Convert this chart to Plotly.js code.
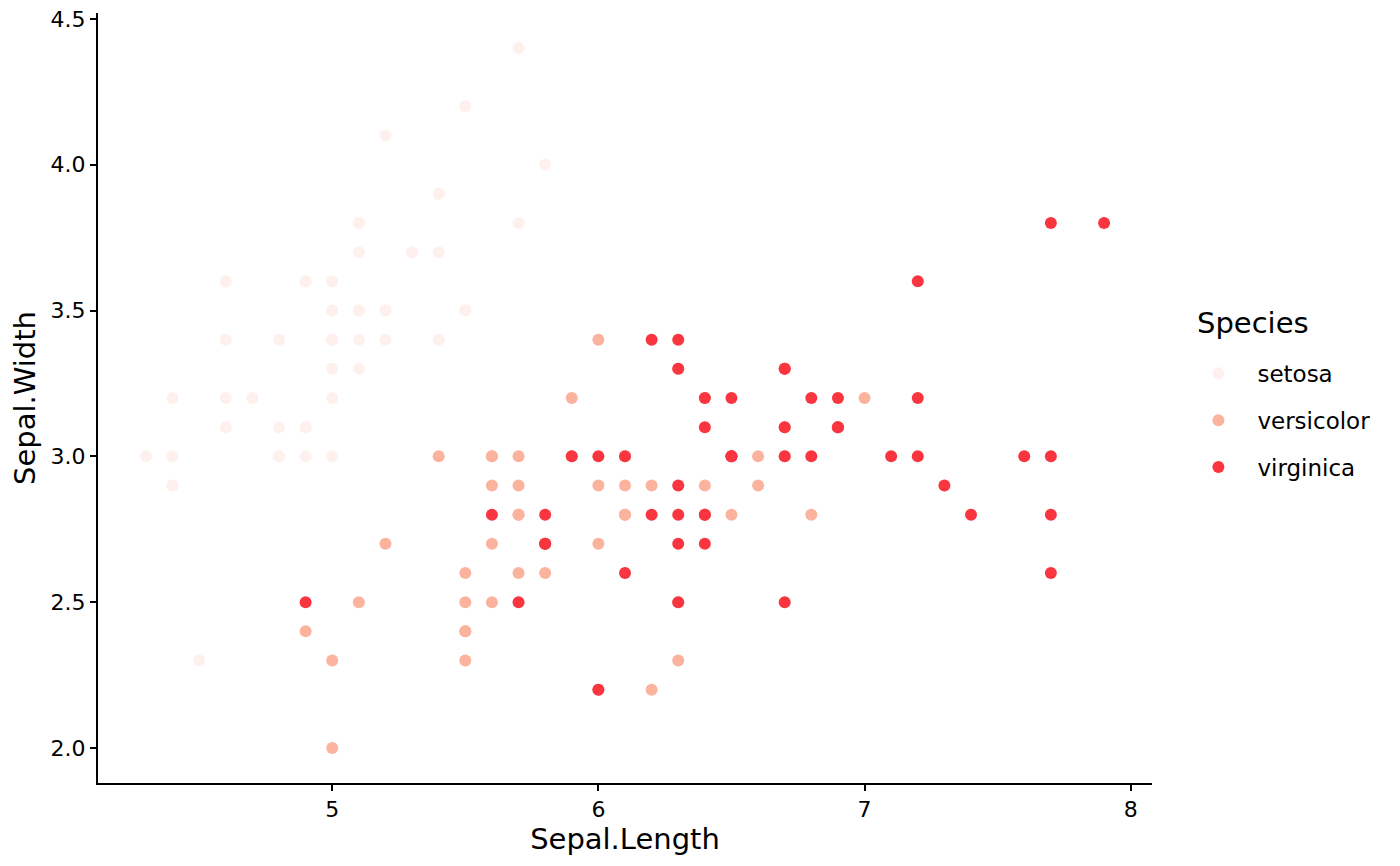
<!DOCTYPE html>
<html>
<head>
<meta charset="utf-8">
<script src="https://cdn.plot.ly/plotly-3.0.1.min.js"></script>
<style>
  body { margin: 0; background: #fff; }
  #plot { width: 1400px; height: 866px; }
</style>
</head>
<body>
<div id="plot"></div>
<script>
// iris: Sepal.Length / Sepal.Width by species
let setosa_x = [5.1,4.9,4.7,4.6,5.0,5.4,4.6,5.0,4.4,4.9,5.4,4.8,4.8,4.3,5.8,5.7,5.4,5.1,5.7,5.1,
  5.4,5.1,4.6,5.1,4.8,5.0,5.0,5.2,5.2,4.7,4.8,5.4,5.2,5.5,4.9,5.0,5.5,4.9,4.4,5.1,
  5.0,4.5,4.4,5.0,5.1,4.8,5.1,4.6,5.3,5.0]
let setosa_y = [3.5,3.0,3.2,3.1,3.6,3.9,3.4,3.4,2.9,3.1,3.7,3.4,3.0,3.0,4.0,4.4,3.9,3.5,3.8,3.8,
  3.4,3.7,3.6,3.3,3.4,3.0,3.4,3.5,3.4,3.2,3.1,3.4,4.1,4.2,3.1,3.2,3.5,3.6,3.0,3.4,
  3.5,2.3,3.2,3.5,3.8,3.0,3.8,3.2,3.7,3.3]

let versicolor_x = [7.0,6.4,6.9,5.5,6.5,5.7,6.3,4.9,6.6,5.2,5.0,5.9,6.0,6.1,5.6,6.7,5.6,5.8,6.2,5.6,
  5.9,6.1,6.3,6.1,6.4,6.6,6.8,6.7,6.0,5.7,5.5,5.5,5.8,6.0,5.4,6.0,6.7,6.3,5.6,5.5,
  5.5,6.1,5.8,5.0,5.6,5.7,5.7,6.2,5.1,5.7]
let versicolor_y = [3.2,3.2,3.1,2.3,2.8,2.8,3.3,2.4,2.9,2.7,2.0,3.0,2.2,2.9,2.9,3.1,3.0,2.7,2.2,2.5,
  3.2,2.8,2.5,2.8,2.9,3.0,2.8,3.0,2.9,2.6,2.4,2.4,2.7,2.7,3.0,3.4,3.1,2.3,3.0,2.5,
  2.6,3.0,2.6,2.3,2.7,3.0,2.9,2.9,2.5,2.8]

let virginica_x = [6.3,5.8,7.1,6.3,6.5,7.6,4.9,7.3,6.7,7.2,6.5,6.4,6.8,5.7,5.8,6.4,6.5,7.7,7.7,6.0,
  6.9,5.6,7.7,6.3,6.7,7.2,6.2,6.1,6.4,7.2,7.4,7.9,6.4,6.3,6.1,7.7,6.3,6.4,6.0,6.9,
  6.7,6.9,5.8,6.8,6.7,6.7,6.3,6.5,6.2,5.9]
let virginica_y = [3.3,2.7,3.0,2.9,3.0,3.0,2.5,2.9,2.5,3.6,3.2,2.7,3.0,2.5,2.8,3.2,3.0,3.8,2.6,2.2,
  3.2,2.8,2.8,2.7,3.3,3.2,2.8,3.0,2.8,3.0,2.8,3.8,2.8,2.8,2.6,3.0,3.4,3.1,3.0,3.1,
  3.1,3.1,2.7,3.2,3.3,3.0,2.5,3.0,3.4,3.0]

let species = ['setosa', 'versicolor', 'virginica']
let colours = ['#fef0ec', '#fcb39d', '#f9363f']
let xs = [setosa_x, versicolor_x, virginica_x]
let ys = [setosa_y, versicolor_y, virginica_y]

let traces = []
for (let i = 0; i < species.length; i++) {
  traces.push({
    x: xs[i],
    y: ys[i],
    mode: 'markers',
    type: 'scatter',
    name: species[i],
    legendgroup: species[i],
    marker: { color: colours[i], size: 12, line: { width: 0 } },
    hoverinfo: 'x+y+name'
  })
}

let axis_common = {
  showgrid: false,
  zeroline: false,
  showline: true,
  linecolor: '#000',
  linewidth: 2,
  ticks: 'outside',
  ticklen: 6,
  tickwidth: 2,
  tickcolor: '#000',
  tickfont: { family: 'DejaVu Sans', size: 22, color: '#000' }
}

let layout = {
  width: 1400,
  height: 866,
  paper_bgcolor: '#fff',
  plot_bgcolor: '#fff',
  margin: { l: 98, r: 248, t: 13, b: 83 },
  font: { family: 'DejaVu Sans', color: '#000' },
  xaxis: Object.assign({}, axis_common, {
    range: [4.12, 8.08],
    tickvals: [5, 6, 7, 8],
    ticktext: ['5', '6', '7', '8'],
    title: { text: 'Sepal.Length', font: { size: 29, color: '#000' }, standoff: 4 }
  }),
  yaxis: Object.assign({}, axis_common, {
    range: [1.88, 4.52],
    tickvals: [2.0, 2.5, 3.0, 3.5, 4.0, 4.5],
    ticktext: ['2.0', '2.5', '3.0', '3.5', '4.0', '4.5'],
    title: { text: 'Sepal.Width', font: { size: 29, color: '#000' }, standoff: 6 }
  }),
  showlegend: true,
  legend: {
    x: 1.026,
    xanchor: 'left',
    y: 0.560,
    yanchor: 'top',
    traceorder: 'grouped',
    tracegroupgap: 14,
    itemwidth: 68,
    font: { family: 'DejaVu Sans', size: 23, color: '#000' },
    itemsizing: 'constant'
  },
  // legend title drawn as a note so its gap to the keys can match
  annotations: [{
    text: 'Species',
    xref: 'paper', yref: 'paper',
    x: 1.041, y: 0.597,
    xanchor: 'left', yanchor: 'middle',
    showarrow: false,
    font: { family: 'DejaVu Sans', size: 29, color: '#000' }
  }]
}

Plotly.newPlot('plot', traces, layout, { displayModeBar: false, responsive: false })
</script>
</body>
</html>
